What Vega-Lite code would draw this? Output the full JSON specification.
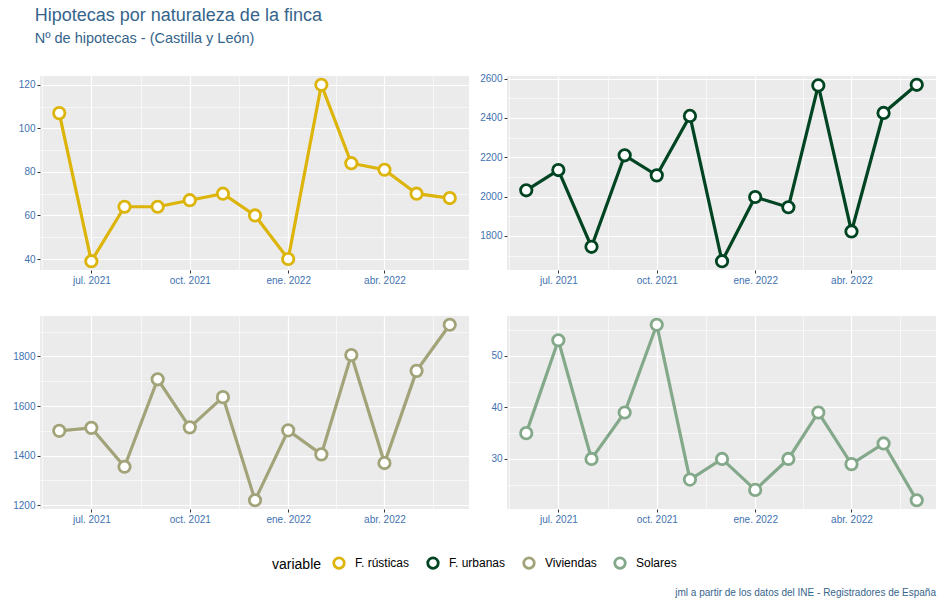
{
  "$schema": "https://vega.github.io/schema/vega-lite/v6.json",
  "background": "white",
  "padding": {"left": 12, "top": 7, "right": 7, "bottom": 8},
  "title": {
    "text": "Hipotecas por naturaleza de la finca",
    "subtitle": "Nº de hipotecas - (Castilla y León)",
    "anchor": "start",
    "dx": 22,
    "fontSize": 18,
    "subtitleFontSize": 14.5,
    "fontWeight": "normal",
    "color": "#36648B",
    "subtitleColor": "#36648B",
    "subtitlePadding": 7,
    "offset": 28
  },
  "data": {
    "values": [
      {"fecha": "2021-06-01", "variable": "F. rústicas", "valor": 107},
      {"fecha": "2021-07-01", "variable": "F. rústicas", "valor": 39},
      {"fecha": "2021-08-01", "variable": "F. rústicas", "valor": 64},
      {"fecha": "2021-09-01", "variable": "F. rústicas", "valor": 64},
      {"fecha": "2021-10-01", "variable": "F. rústicas", "valor": 67},
      {"fecha": "2021-11-01", "variable": "F. rústicas", "valor": 70},
      {"fecha": "2021-12-01", "variable": "F. rústicas", "valor": 60},
      {"fecha": "2022-01-01", "variable": "F. rústicas", "valor": 40},
      {"fecha": "2022-02-01", "variable": "F. rústicas", "valor": 120},
      {"fecha": "2022-03-01", "variable": "F. rústicas", "valor": 84},
      {"fecha": "2022-04-01", "variable": "F. rústicas", "valor": 81},
      {"fecha": "2022-05-01", "variable": "F. rústicas", "valor": 70},
      {"fecha": "2022-06-01", "variable": "F. rústicas", "valor": 68},
      {"fecha": "2021-06-01", "variable": "F. urbanas", "valor": 2032},
      {"fecha": "2021-07-01", "variable": "F. urbanas", "valor": 2135},
      {"fecha": "2021-08-01", "variable": "F. urbanas", "valor": 1745},
      {"fecha": "2021-09-01", "variable": "F. urbanas", "valor": 2210},
      {"fecha": "2021-10-01", "variable": "F. urbanas", "valor": 2108},
      {"fecha": "2021-11-01", "variable": "F. urbanas", "valor": 2410},
      {"fecha": "2021-12-01", "variable": "F. urbanas", "valor": 1672},
      {"fecha": "2022-01-01", "variable": "F. urbanas", "valor": 1998},
      {"fecha": "2022-02-01", "variable": "F. urbanas", "valor": 1946},
      {"fecha": "2022-03-01", "variable": "F. urbanas", "valor": 2565},
      {"fecha": "2022-04-01", "variable": "F. urbanas", "valor": 1823},
      {"fecha": "2022-05-01", "variable": "F. urbanas", "valor": 2425},
      {"fecha": "2022-06-01", "variable": "F. urbanas", "valor": 2568},
      {"fecha": "2021-06-01", "variable": "Viviendas", "valor": 1500},
      {"fecha": "2021-07-01", "variable": "Viviendas", "valor": 1512},
      {"fecha": "2021-08-01", "variable": "Viviendas", "valor": 1355},
      {"fecha": "2021-09-01", "variable": "Viviendas", "valor": 1708},
      {"fecha": "2021-10-01", "variable": "Viviendas", "valor": 1514},
      {"fecha": "2021-11-01", "variable": "Viviendas", "valor": 1636},
      {"fecha": "2021-12-01", "variable": "Viviendas", "valor": 1220},
      {"fecha": "2022-01-01", "variable": "Viviendas", "valor": 1502},
      {"fecha": "2022-02-01", "variable": "Viviendas", "valor": 1405},
      {"fecha": "2022-03-01", "variable": "Viviendas", "valor": 1806},
      {"fecha": "2022-04-01", "variable": "Viviendas", "valor": 1370},
      {"fecha": "2022-05-01", "variable": "Viviendas", "valor": 1742},
      {"fecha": "2022-06-01", "variable": "Viviendas", "valor": 1928},
      {"fecha": "2021-06-01", "variable": "Solares", "valor": 35},
      {"fecha": "2021-07-01", "variable": "Solares", "valor": 53},
      {"fecha": "2021-08-01", "variable": "Solares", "valor": 30},
      {"fecha": "2021-09-01", "variable": "Solares", "valor": 39},
      {"fecha": "2021-10-01", "variable": "Solares", "valor": 56},
      {"fecha": "2021-11-01", "variable": "Solares", "valor": 26},
      {"fecha": "2021-12-01", "variable": "Solares", "valor": 30},
      {"fecha": "2022-01-01", "variable": "Solares", "valor": 24},
      {"fecha": "2022-02-01", "variable": "Solares", "valor": 30},
      {"fecha": "2022-03-01", "variable": "Solares", "valor": 39},
      {"fecha": "2022-04-01", "variable": "Solares", "valor": 29},
      {"fecha": "2022-05-01", "variable": "Solares", "valor": 33},
      {"fecha": "2022-06-01", "variable": "Solares", "valor": 22}
    ]
  },
  "vconcat": [
    {
      "title": {
        "text": "jml a partir de los datos del INE - Registradores de España",
        "orient": "bottom",
        "anchor": "end",
        "fontSize": 10,
        "fontWeight": "normal",
        "color": "#36648B",
        "offset": 14
      },
      "columns": 2,
      "spacing": {"row": 28, "column": 10},
      "resolve": {"legend": {"color": "shared"}},
      "concat": [
        {
          "width": 429, "height": 194,
          "transform": [{"filter": "datum.variable == 'F. rústicas'"}],
          "encoding": {
            "x": {"field": "fecha", "type": "temporal",
              "scale": {"type": "utc", "domain": [{"year": 2021, "month": 5, "date": 14, "utc": true}, {"year": 2022, "month": 6, "date": 19, "utc": true}]},
              "axis": {"title": null, "labelOverlap": false, "labelFlush": false,
                "values": [{"year": 2021, "month": 5, "date": 16, "utc": true}, {"year": 2021, "month": 7, "date": 1, "utc": true}, {"year": 2021, "month": 8, "date": 16, "utc": true}, {"year": 2021, "month": 10, "date": 1, "utc": true}, {"year": 2021, "month": 11, "date": 16, "utc": true}, {"year": 2022, "month": 1, "date": 1, "utc": true}, {"year": 2022, "month": 2, "date": 15, "utc": true}, {"year": 2022, "month": 4, "date": 1, "utc": true}, {"year": 2022, "month": 5, "date": 16, "utc": true}],
                "labelExpr": "utcdate(datum.value) == 1 ? ['ene.','feb.','mar.','abr.','may.','jun.','jul.','ago.','sept.','oct.','nov.','dic.'][utcmonth(datum.value)] + ' ' + utcyear(datum.value) : ''",
                "gridWidth": {"condition": {"test": "utcdate(datum.value) == 1", "value": 1.2}, "value": 0.6},
                "tickOpacity": {"condition": {"test": "utcdate(datum.value) == 1", "value": 1}, "value": 0}}},
            "y": {"field": "valor", "type": "quantitative",
              "scale": {"domain": [34.95, 124.05], "nice": false, "zero": false},
              "axis": {"title": null, "labelOverlap": false, "format": "d",
                "values": [40, 50, 60, 70, 80, 90, 100, 110, 120],
                "labelExpr": "datum.value % 20 == 0 ? datum.label : ''",
                "gridWidth": {"condition": {"test": "datum.value % 20 == 0", "value": 1.2}, "value": 0.6},
                "tickOpacity": {"condition": {"test": "datum.value % 20 == 0", "value": 1}, "value": 0}}},
            "color": {"field": "variable", "type": "nominal",
              "scale": {"domain": ["F. rústicas", "F. urbanas", "Viviendas", "Solares"], "range": ["#DCB40A", "#004422", "#A3A37A", "#84A98A"]},
              "legend": {"title": "variable"}}
          },
          "layer": [
            {"mark": {"type": "line", "strokeWidth": 3.2}},
            {"mark": {"type": "point", "filled": false, "fill": "white", "fillOpacity": 1, "opacity": 1, "strokeWidth": 2.8, "size": 130}}
          ]
        },
        {
          "width": 429, "height": 194,
          "transform": [{"filter": "datum.variable == 'F. urbanas'"}],
          "encoding": {
            "x": {"field": "fecha", "type": "temporal",
              "scale": {"type": "utc", "domain": [{"year": 2021, "month": 5, "date": 14, "utc": true}, {"year": 2022, "month": 6, "date": 19, "utc": true}]},
              "axis": {"title": null, "labelOverlap": false, "labelFlush": false,
                "values": [{"year": 2021, "month": 5, "date": 16, "utc": true}, {"year": 2021, "month": 7, "date": 1, "utc": true}, {"year": 2021, "month": 8, "date": 16, "utc": true}, {"year": 2021, "month": 10, "date": 1, "utc": true}, {"year": 2021, "month": 11, "date": 16, "utc": true}, {"year": 2022, "month": 1, "date": 1, "utc": true}, {"year": 2022, "month": 2, "date": 15, "utc": true}, {"year": 2022, "month": 4, "date": 1, "utc": true}, {"year": 2022, "month": 5, "date": 16, "utc": true}],
                "labelExpr": "utcdate(datum.value) == 1 ? ['ene.','feb.','mar.','abr.','may.','jun.','jul.','ago.','sept.','oct.','nov.','dic.'][utcmonth(datum.value)] + ' ' + utcyear(datum.value) : ''",
                "gridWidth": {"condition": {"test": "utcdate(datum.value) == 1", "value": 1.2}, "value": 0.6},
                "tickOpacity": {"condition": {"test": "utcdate(datum.value) == 1", "value": 1}, "value": 0}}},
            "y": {"field": "valor", "type": "quantitative",
              "scale": {"domain": [1627.2, 2612.8], "nice": false, "zero": false},
              "axis": {"title": null, "labelOverlap": false, "format": "d",
                "values": [1700, 1800, 1900, 2000, 2100, 2200, 2300, 2400, 2500, 2600],
                "labelExpr": "datum.value % 200 == 0 ? datum.label : ''",
                "gridWidth": {"condition": {"test": "datum.value % 200 == 0", "value": 1.2}, "value": 0.6},
                "tickOpacity": {"condition": {"test": "datum.value % 200 == 0", "value": 1}, "value": 0}}},
            "color": {"field": "variable", "type": "nominal",
              "scale": {"domain": ["F. rústicas", "F. urbanas", "Viviendas", "Solares"], "range": ["#DCB40A", "#004422", "#A3A37A", "#84A98A"]},
              "legend": {"title": "variable"}}
          },
          "layer": [
            {"mark": {"type": "line", "strokeWidth": 3.2}},
            {"mark": {"type": "point", "filled": false, "fill": "white", "fillOpacity": 1, "opacity": 1, "strokeWidth": 2.8, "size": 130}}
          ]
        },
        {
          "width": 429, "height": 193,
          "transform": [{"filter": "datum.variable == 'Viviendas'"}],
          "encoding": {
            "x": {"field": "fecha", "type": "temporal",
              "scale": {"type": "utc", "domain": [{"year": 2021, "month": 5, "date": 14, "utc": true}, {"year": 2022, "month": 6, "date": 19, "utc": true}]},
              "axis": {"title": null, "labelOverlap": false, "labelFlush": false,
                "values": [{"year": 2021, "month": 5, "date": 16, "utc": true}, {"year": 2021, "month": 7, "date": 1, "utc": true}, {"year": 2021, "month": 8, "date": 16, "utc": true}, {"year": 2021, "month": 10, "date": 1, "utc": true}, {"year": 2021, "month": 11, "date": 16, "utc": true}, {"year": 2022, "month": 1, "date": 1, "utc": true}, {"year": 2022, "month": 2, "date": 15, "utc": true}, {"year": 2022, "month": 4, "date": 1, "utc": true}, {"year": 2022, "month": 5, "date": 16, "utc": true}],
                "labelExpr": "utcdate(datum.value) == 1 ? ['ene.','feb.','mar.','abr.','may.','jun.','jul.','ago.','sept.','oct.','nov.','dic.'][utcmonth(datum.value)] + ' ' + utcyear(datum.value) : ''",
                "gridWidth": {"condition": {"test": "utcdate(datum.value) == 1", "value": 1.2}, "value": 0.6},
                "tickOpacity": {"condition": {"test": "utcdate(datum.value) == 1", "value": 1}, "value": 0}}},
            "y": {"field": "valor", "type": "quantitative",
              "scale": {"domain": [1184.6, 1963.4], "nice": false, "zero": false},
              "axis": {"title": null, "labelOverlap": false, "format": "d",
                "values": [1200, 1300, 1400, 1500, 1600, 1700, 1800, 1900],
                "labelExpr": "datum.value % 200 == 0 ? datum.label : ''",
                "gridWidth": {"condition": {"test": "datum.value % 200 == 0", "value": 1.2}, "value": 0.6},
                "tickOpacity": {"condition": {"test": "datum.value % 200 == 0", "value": 1}, "value": 0}}},
            "color": {"field": "variable", "type": "nominal",
              "scale": {"domain": ["F. rústicas", "F. urbanas", "Viviendas", "Solares"], "range": ["#DCB40A", "#004422", "#A3A37A", "#84A98A"]},
              "legend": {"title": "variable"}}
          },
          "layer": [
            {"mark": {"type": "line", "strokeWidth": 3.2}},
            {"mark": {"type": "point", "filled": false, "fill": "white", "fillOpacity": 1, "opacity": 1, "strokeWidth": 2.8, "size": 130}}
          ]
        },
        {
          "width": 429, "height": 193,
          "transform": [{"filter": "datum.variable == 'Solares'"}],
          "encoding": {
            "x": {"field": "fecha", "type": "temporal",
              "scale": {"type": "utc", "domain": [{"year": 2021, "month": 5, "date": 14, "utc": true}, {"year": 2022, "month": 6, "date": 19, "utc": true}]},
              "axis": {"title": null, "labelOverlap": false, "labelFlush": false,
                "values": [{"year": 2021, "month": 5, "date": 16, "utc": true}, {"year": 2021, "month": 7, "date": 1, "utc": true}, {"year": 2021, "month": 8, "date": 16, "utc": true}, {"year": 2021, "month": 10, "date": 1, "utc": true}, {"year": 2021, "month": 11, "date": 16, "utc": true}, {"year": 2022, "month": 1, "date": 1, "utc": true}, {"year": 2022, "month": 2, "date": 15, "utc": true}, {"year": 2022, "month": 4, "date": 1, "utc": true}, {"year": 2022, "month": 5, "date": 16, "utc": true}],
                "labelExpr": "utcdate(datum.value) == 1 ? ['ene.','feb.','mar.','abr.','may.','jun.','jul.','ago.','sept.','oct.','nov.','dic.'][utcmonth(datum.value)] + ' ' + utcyear(datum.value) : ''",
                "gridWidth": {"condition": {"test": "utcdate(datum.value) == 1", "value": 1.2}, "value": 0.6},
                "tickOpacity": {"condition": {"test": "utcdate(datum.value) == 1", "value": 1}, "value": 0}}},
            "y": {"field": "valor", "type": "quantitative",
              "scale": {"domain": [20.3, 57.7], "nice": false, "zero": false},
              "axis": {"title": null, "labelOverlap": false, "format": "d",
                "values": [25, 30, 35, 40, 45, 50, 55],
                "labelExpr": "datum.value % 10 == 0 ? datum.label : ''",
                "gridWidth": {"condition": {"test": "datum.value % 10 == 0", "value": 1.2}, "value": 0.6},
                "tickOpacity": {"condition": {"test": "datum.value % 10 == 0", "value": 1}, "value": 0}}},
            "color": {"field": "variable", "type": "nominal",
              "scale": {"domain": ["F. rústicas", "F. urbanas", "Viviendas", "Solares"], "range": ["#DCB40A", "#004422", "#A3A37A", "#84A98A"]},
              "legend": {"title": "variable"}}
          },
          "layer": [
            {"mark": {"type": "line", "strokeWidth": 3.2}},
            {"mark": {"type": "point", "filled": false, "fill": "white", "fillOpacity": 1, "opacity": 1, "strokeWidth": 2.8, "size": 130}}
          ]
        }
      ]
    }
  ],
  "resolve": {"legend": {"color": "independent"}},
  "config": {
    "font": "Liberation Sans",
    "view": {"fill": "#EBEBEB", "stroke": null},
    "axis": {
      "domain": false,
      "gridColor": "white",
      "tickColor": "#333333",
      "tickSize": 3,
      "labelColor": "#3F72AF",
      "labelFontSize": 10,
      "labelPadding": 2
    },
    "legend": {
      "orient": "bottom",
      "direction": "horizontal",
      "layout": {"bottom": {"anchor": "middle"}},
      "titleOrient": "left",
      "titleFontSize": 14,
      "titleFontWeight": "normal",
      "titleColor": "black",
      "titlePadding": 10,
      "labelFontSize": 12,
      "labelColor": "black",
      "labelOffset": 9,
      "symbolType": "circle",
      "symbolSize": 110,
      "symbolStrokeWidth": 2.8,
      "symbolFillColor": "white",
      "columnPadding": 12,
      "offset": 32
    }
  }
}
